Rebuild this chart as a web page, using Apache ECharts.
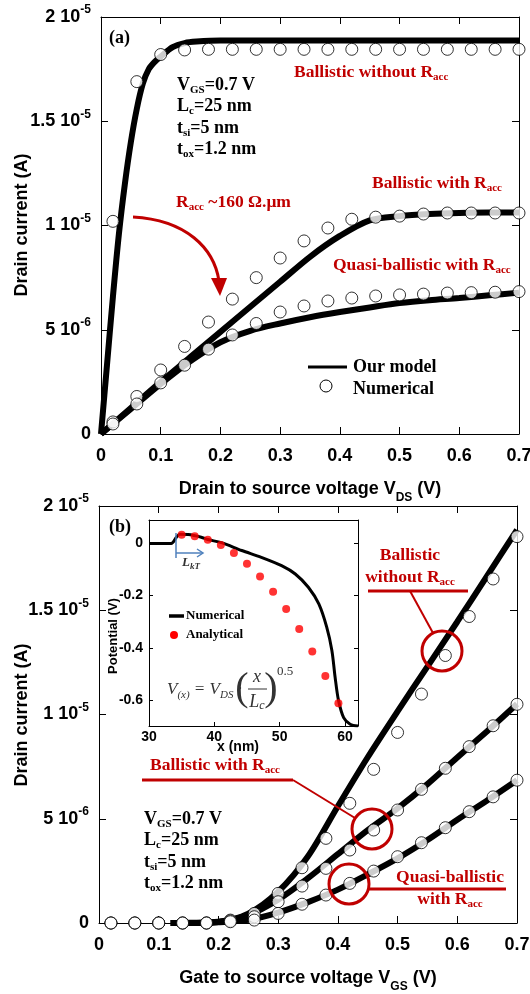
<!DOCTYPE html>
<html lang="en">
<head>
<meta charset="utf-8">
<title>Drain current - ballistic / quasi-ballistic</title>
<script src="https://cdn.jsdelivr.net/npm/echarts@6/dist/echarts.min.js"></script>
<style>
    * { margin: 0; padding: 0; }
    html, body { width: 100%; height: 100%; background: #fff; }
    #main { width: 530px; height: 994px; }
</style>
</head>
<body>
<div id="main"></div>
<script>
// currents are in units of 1e-6 A

// ---- panel (a): Id vs Vds, Vgs = 0.7 V
var vdsSteep = [0, 0.01, 0.02, 0.03, 0.04, 0.05, 0.06, 0.07, 0.08, 0.09, 0.10, 0.12, 0.14, 0.16, 0.2, 0.3, 0.4, 0.5, 0.6, 0.7];
var ballNoRaccModelA = [0, 3.3, 6.6, 9.6, 12.0, 14.0, 15.6, 16.8, 17.5, 17.85, 18.1, 18.55, 18.75, 18.82, 18.87, 18.87, 18.87, 18.87, 18.87, 18.87];
var vdsModel = [0, 0.05, 0.1, 0.15, 0.2, 0.25, 0.3, 0.35, 0.4, 0.45, 0.5, 0.55, 0.6, 0.65, 0.7];
var ballRaccModelA = [0, 1.25, 2.5, 3.7, 4.9, 6.1, 7.3, 8.5, 9.5, 10.25, 10.45, 10.55, 10.6, 10.62, 10.62];
var quasiModelA = [0, 1.2, 2.4, 3.5, 4.4, 4.95, 5.3, 5.6, 5.85, 6.07, 6.28, 6.42, 6.52, 6.65, 6.78];

var vdsNum = [0.02, 0.06, 0.10, 0.14, 0.18, 0.22, 0.26, 0.30, 0.34, 0.38, 0.42, 0.46, 0.50, 0.54, 0.58, 0.62, 0.66, 0.70];
var ballNoRaccNumA = [10.2, 16.9, 18.2, 18.42, 18.45, 18.45, 18.45, 18.45, 18.45, 18.45, 18.45, 18.45, 18.45, 18.45, 18.45, 18.45, 18.45, 18.45];
var ballRaccNumA = [0.58, 1.8, 3.07, 4.2, 5.37, 6.47, 7.5, 8.44, 9.26, 9.88, 10.3, 10.4, 10.45, 10.55, 10.6, 10.6, 10.6, 10.6];
var quasiNumA = [0.48, 1.44, 2.45, 3.3, 4.07, 4.75, 5.3, 5.85, 6.14, 6.38, 6.52, 6.62, 6.67, 6.71, 6.76, 6.78, 6.8, 6.83];

// ---- panel (b): Id vs Vgs
var vgsModel = [0.12, 0.15, 0.2, 0.25, 0.3, 0.35, 0.4, 0.45, 0.5, 0.55, 0.6, 0.65, 0.7];
var ballNoRaccModelB = [0, 0.01, 0.06, 0.45, 1.5, 3.2, 5.6, 7.95, 10.15, 12.3, 14.45, 16.65, 18.85];
var ballRaccModelB = [0, 0, 0.05, 0.38, 1.12, 2.15, 3.3, 4.45, 5.5, 6.66, 7.94, 9.2, 10.5];
var quasiModelB = [0, 0, 0.03, 0.15, 0.5, 1.0, 1.6, 2.33, 3.1, 3.98, 4.95, 5.88, 6.85];

var vgsNum = [0.02, 0.06, 0.10, 0.14, 0.18, 0.22, 0.26, 0.30, 0.34, 0.38, 0.42, 0.46, 0.50, 0.54, 0.58, 0.62, 0.66, 0.70];
var ballNoRaccNumB = [0, 0, 0, 0, 0, 0.14, 0.46, 1.42, 2.65, 4.06, 5.74, 7.37, 9.14, 10.98, 12.83, 14.7, 16.5, 18.53];
var ballRaccNumB = [0, 0, 0, 0, 0, 0.1, 0.3, 1.02, 1.77, 2.62, 3.5, 4.46, 5.42, 6.41, 7.42, 8.46, 9.46, 10.49];
var quasiNumB = [0, 0, 0, 0, 0, 0.06, 0.14, 0.46, 0.90, 1.34, 1.9, 2.49, 3.18, 3.85, 4.57, 5.34, 6.05, 6.85];

// ---- inset: channel potential (V) vs x (nm)
var insetNumX = [30, 33.4, 34.2, 34.7, 36, 38, 39, 41.1, 44.2, 47.2, 50.3, 52.4, 54.4, 56, 57.2, 58, 58.5, 59, 59.8, 60.8, 62];
var insetNumY = [0, 0, 0.024, 0.035, 0.034, 0.024, 0.015, 0.003, -0.027, -0.053, -0.085, -0.117, -0.168, -0.232, -0.32, -0.41, -0.514, -0.6, -0.668, -0.693, -0.7];
var insetAnaX = [35, 37, 39, 41, 43, 45, 47, 49, 51, 53, 55, 57, 59];
var insetAnaY = [0.033, 0.028, 0.014, -0.006, -0.037, -0.078, -0.127, -0.185, -0.251, -0.328, -0.414, -0.508, -0.613];
var insetYTicks = [-0.6, -0.4, -0.2, 0];

// y tick labels: mantissa + exponent
var yTickVal = [0, 5, 10, 15, 20];
var yTickMant = ['0', '5', '1', '1.5', '2'];
var yTickExp = ['', '-6', '-5', '-5', '-5'];

var RED = '#c00000';
var BLUE = '#4f81bd';
var SANS = '"Liberation Sans", Arial, sans-serif';
var SERIF = '"Liberation Serif", "Times New Roman", serif';

function zip(xs, ys) {
    return xs.map(function (x, i) { return [x, ys[i]]; });
}

function yLabel(v) {
    var i = yTickVal.indexOf(Math.round(v));
    if (i < 0) return '';
    if (!yTickExp[i]) return '{n|' + yTickMant[i] + '}';
    return '{n|' + yTickMant[i] + ' 10}{e|' + yTickExp[i] + '}';
}

var tickRich = {
    n: {fontFamily: SANS, fontWeight: 'bold', fontSize: 18, color: '#000'},
    e: {fontFamily: SANS, fontWeight: 'bold', fontSize: 12, color: '#000', padding: [0, 0, 14, 0]}
};
var nameRich = {
    t: {fontFamily: SANS, fontWeight: 'bold', fontSize: 18, color: '#000'},
    s: {fontFamily: SANS, fontWeight: 'bold', fontSize: 12, color: '#000', padding: [18, 0, 0, 0]}
};

function mainX(grid, name) {
    return [{
        gridIndex: grid, type: 'value', position: 'bottom', min: 0, max: 0.7, interval: 0.1,
        axisLine: {onZero: false, lineStyle: {color: '#000', width: 1}},
        axisTick: {inside: true, length: 7, lineStyle: {color: '#000'}},
        axisLabel: {margin: 13, fontFamily: SANS, fontWeight: 'bold', fontSize: 18, color: '#000'},
        splitLine: {show: false},
        name: name, nameLocation: 'middle', nameGap: 40,
        nameTextStyle: {rich: nameRich}
    }, {
        gridIndex: grid, type: 'value', position: 'top', min: 0, max: 0.7, interval: 0.1,
        axisLine: {onZero: false, lineStyle: {color: '#000', width: 1}},
        axisTick: {inside: true, length: 7, lineStyle: {color: '#000'}},
        axisLabel: {show: false}, splitLine: {show: false}
    }];
}

function mainY(grid) {
    return [{
        gridIndex: grid, type: 'value', position: 'left', min: 0, max: 20, interval: 5,
        axisLine: {show: true, onZero: false, lineStyle: {color: '#000', width: 1}},
        axisTick: {show: true, inside: true, length: 7, lineStyle: {color: '#000'}},
        axisLabel: {margin: 10, formatter: yLabel, rich: tickRich},
        splitLine: {show: false}
    }, {
        gridIndex: grid, type: 'value', position: 'right', min: 0, max: 20, interval: 5,
        axisLine: {show: true, onZero: false, lineStyle: {color: '#000', width: 1}},
        axisTick: {show: true, inside: true, length: 7, lineStyle: {color: '#000'}},
        axisLabel: {show: false}, splitLine: {show: false}
    }];
}

function modelLine(xi, yi, data, smooth) {
    return {
        type: 'line', xAxisIndex: xi, yAxisIndex: yi, data: data,
        showSymbol: false, smooth: smooth, z: 3,
        lineStyle: {color: '#000', width: 6}
    };
}
function numPoints(xi, yi, data) {
    return {
        type: 'scatter', xAxisIndex: xi, yAxisIndex: yi, data: data, z: 5,
        symbol: 'circle', symbolSize: 12,
        itemStyle: {color: '#fff', borderColor: '#000', borderWidth: 1}
    };
}

// annotation helpers (text positions in pixels)
var annRich = {
    k: {fontFamily: SERIF, fontWeight: 'bold', fontSize: 18, fill: '#000'},
    ks: {fontFamily: SERIF, fontWeight: 'bold', fontSize: 11, fill: '#000', padding: [10, 0, 0, 0]},
    r: {fontFamily: SERIF, fontWeight: 'bold', fontSize: 17.5, fill: RED},
    rs: {fontFamily: SERIF, fontWeight: 'bold', fontSize: 11, fill: RED, padding: [10, 0, 0, 0]}
};
function txt(x, y, text, align, extra) {
    var st = {text: text, align: align || 'left', verticalAlign: 'middle', rich: annRich,
        font: 'bold 18px ' + SERIF, fill: '#000'};
    if (extra) for (var k in extra) st[k] = extra[k];
    return {type: 'text', x: x, y: y, z: 20, style: st};
}
function params(x, y0, dy) {
    return [
        txt(x, y0, '{k|V}{ks|GS}{k|=0.7 V}'),
        txt(x, y0 + dy, '{k|L}{ks|c}{k|=25 nm}'),
        txt(x, y0 + 2 * dy, '{k|t}{ks|si}{k|=5 nm}'),
        txt(x, y0 + 3 * dy, '{k|t}{ks|ox}{k|=1.2 nm}')
    ];
}
function seg(x1, y1, x2, y2, color, w) {
    return {type: 'line', z: 20, shape: {x1: x1, y1: y1, x2: x2, y2: y2},
        style: {stroke: color, lineWidth: w}};
}
function ring(cx, cy, r) {
    return {type: 'circle', z: 20, shape: {cx: cx, cy: cy, r: r},
        style: {fill: null, stroke: RED, lineWidth: 3}};
}
function vTitle(x, y, text, size) {
    return {type: 'text', x: x, y: y, z: 20, rotation: Math.PI / 2, style: {text: text,
        align: 'center', verticalAlign: 'middle', font: 'bold ' + size + 'px ' + SANS, fill: '#000'}};
}

var graphics = [].concat(
    // panel (a)
    [txt(109, 38, '(a)'), vTitle(22, 225, 'Drain current (A)', 18)],
    params(177, 85, 21.5),
    [
        txt(294, 72, '{r|Ballistic without R}{rs|acc}'),
        txt(372, 183, '{r|Ballistic with R}{rs|acc}'),
        txt(333, 265, '{r|Quasi-ballistic with R}{rs|acc}'),
        txt(176, 202, '{r|R}{rs|acc}{r| ~160 \u03a9.\u03bcm}'),
        {type: 'bezierCurve', z: 20,
            shape: {x1: 133, y1: 217, cpx1: 186, cpy1: 220, cpx2: 214, cpy2: 248, x2: 219, y2: 281},
            style: {stroke: RED, lineWidth: 3, fill: null}},
        {type: 'polygon', z: 20, shape: {points: [[211, 278], [227, 278], [220, 296]]},
            style: {fill: RED}},
        // legend
        seg(308, 367, 347, 367, '#000', 3),
        txt(353, 367, 'Our model'),
        {type: 'circle', z: 20, shape: {cx: 326, cy: 386, r: 6}, style: {fill: '#fff', stroke: '#000', lineWidth: 1}},
        txt(353, 389, 'Numerical')
    ],
    // panel (b)
    [txt(109, 527, '(b)'), vTitle(22, 715, 'Drain current (A)', 18)],
    params(144, 819, 21.5),
    [
        txt(410, 555, '{r|Ballistic}', 'center'),
        txt(410, 577, '{r|without R}{rs|acc}', 'center'),
        seg(368, 591, 468, 591, RED, 3),
        seg(410, 591, 433, 633, RED, 2),
        ring(442, 651, 20),
        txt(150, 765, '{r|Ballistic with R}{rs|acc}'),
        seg(142, 780, 293, 780, RED, 3),
        seg(293, 780, 355, 818, RED, 2),
        ring(372, 829, 20),
        txt(450, 877, '{r|Quasi-ballistic}', 'center'),
        txt(450, 899, '{r|with R}{rs|acc}', 'center'),
        seg(369, 889, 506, 889, RED, 3),
        ring(349, 884, 20)
    ],
    // inset decorations
    [
        seg(176, 533, 176, 558, BLUE, 1.5),
        seg(176, 553, 203, 553, BLUE, 1.5),
        {type: 'polyline', z: 20, shape: {points: [[197, 549], [203, 553], [197, 557]]},
            style: {stroke: BLUE, lineWidth: 1.5, fill: null}},
        {type: 'text', x: 182, y: 563, z: 20, style: {
            text: '{l|L}{ls|kT}', verticalAlign: 'middle',
            rich: {l: {fontFamily: SERIF, fontStyle: 'italic', fontWeight: 'bold', fontSize: 13, fill: '#333'},
                ls: {fontFamily: SERIF, fontStyle: 'italic', fontWeight: 'bold', fontSize: 9, fill: '#333', padding: [7, 0, 0, 0]}}}},
        seg(169, 616, 184, 616, '#000', 3.5),
        {type: 'text', x: 186, y: 616, z: 20, style: {text: 'Numerical', verticalAlign: 'middle',
            font: 'bold 13px ' + SERIF, fill: '#000'}},
        {type: 'circle', z: 20, shape: {cx: 174, cy: 635, r: 4}, style: {fill: '#ff0000'}},
        {type: 'text', x: 186, y: 635, z: 20, style: {text: 'Analytical', verticalAlign: 'middle',
            font: 'bold 13px ' + SERIF, fill: '#000'}},
        // formula V(x) = VDS . (x / Lc)^0.5
        {type: 'text', x: 167, y: 690, z: 20, style: {
            text: '{v|V}{vs|(x)}{v| = V}{vs|DS}{v| \u00b7}', verticalAlign: 'middle',
            rich: {v: {fontFamily: SERIF, fontStyle: 'italic', fontSize: 17, fill: '#333'},
                vs: {fontFamily: SERIF, fontStyle: 'italic', fontSize: 11, fill: '#333', padding: [10, 0, 0, 0]}}}},
        {type: 'text', x: 242, y: 689, z: 20, style: {text: '(', align: 'center', verticalAlign: 'middle',
            font: '40px ' + SERIF, fill: '#333'}},
        {type: 'text', x: 257, y: 677, z: 20, style: {text: 'x', align: 'center', verticalAlign: 'middle',
            font: 'italic 18px ' + SERIF, fill: '#333'}},
        seg(248, 689, 267, 689, '#333', 1),
        {type: 'text', x: 257, y: 702, z: 20, style: {
            text: '{v|L}{vs|c}', align: 'center', verticalAlign: 'middle',
            rich: {v: {fontFamily: SERIF, fontStyle: 'italic', fontSize: 18, fill: '#333'},
                vs: {fontFamily: SERIF, fontStyle: 'italic', fontSize: 12, fill: '#333', padding: [8, 0, 0, 0]}}}},
        {type: 'text', x: 271, y: 689, z: 20, style: {text: ')', align: 'center', verticalAlign: 'middle',
            font: '40px ' + SERIF, fill: '#333'}},
        {type: 'text', x: 277, y: 672, z: 20, style: {text: '0.5', verticalAlign: 'middle',
            font: '13px ' + SERIF, fill: '#333'}},
        {type: 'text', x: 238, y: 747, z: 20, style: {text: 'x (nm)', align: 'center', verticalAlign: 'middle',
            font: 'bold 14px ' + SANS, fill: '#000'}},
        vTitle(113, 636, 'Potential (V)', 13)
    ]
);

var xAxes = [].concat(
    mainX(0, '{t|Drain to source voltage V}{s|DS}{t| (V)}'),
    mainX(1, '{t|Gate to source voltage V}{s|GS}{t| (V)}'),
    [{
        gridIndex: 2, type: 'value', position: 'bottom', min: 30, max: 62, interval: 10,
        axisLine: {onZero: false, lineStyle: {color: '#000'}},
        axisTick: {inside: true, length: 4, lineStyle: {color: '#000'}},
        axisLabel: {margin: 4, fontFamily: SANS, fontWeight: 'bold', fontSize: 14, color: '#000', showMaxLabel: false},
        splitLine: {show: false}
    }, {
        gridIndex: 2, type: 'value', position: 'top', min: 30, max: 62,
        axisLine: {onZero: false, lineStyle: {color: '#000'}},
        axisTick: {show: false}, axisLabel: {show: false}, splitLine: {show: false}
    }]
);
var yAxes = [].concat(
    mainY(0),
    mainY(1),
    [{
        gridIndex: 2, type: 'value', position: 'left', min: -0.7, max: 0.09,
        axisLine: {show: true, onZero: false, lineStyle: {color: '#000'}},
        axisTick: {show: true, inside: true, length: 4, customValues: insetYTicks, lineStyle: {color: '#000'}},
        axisLabel: {margin: 6, customValues: insetYTicks, fontFamily: SANS, fontWeight: 'bold', fontSize: 14, color: '#000'},
        splitLine: {show: false}
    }, {
        gridIndex: 2, type: 'value', position: 'right', min: -0.7, max: 0.09,
        axisLine: {show: true, onZero: false, lineStyle: {color: '#000'}},
        axisTick: {show: true, inside: true, length: 4, customValues: insetYTicks, lineStyle: {color: '#000'}},
        axisLabel: {show: false}, splitLine: {show: false}
    }]
);

var option = {
    animation: false,
    backgroundColor: '#fff',
    grid: [
        {left: 101, top: 17, width: 418, height: 417, outerBoundsMode: 'none', containLabel: false},
        {left: 99, top: 506, width: 418, height: 417, outerBoundsMode: 'none', containLabel: false},
        {left: 149, top: 520, width: 209, height: 206, outerBoundsMode: 'none', containLabel: false,
            show: true, backgroundColor: '#fff', borderWidth: 0}
    ],
    xAxis: xAxes,
    yAxis: yAxes,
    series: [
        modelLine(0, 0, zip(vdsSteep, ballNoRaccModelA), 0.3),
        modelLine(0, 0, zip(vdsModel, ballRaccModelA), 0.3),
        modelLine(0, 0, zip(vdsModel, quasiModelA), 0.3),
        numPoints(0, 0, zip(vdsNum, ballNoRaccNumA)),
        numPoints(0, 0, zip(vdsNum, ballRaccNumA)),
        numPoints(0, 0, zip(vdsNum, quasiNumA)),

        modelLine(2, 2, zip(vgsModel, ballNoRaccModelB), 0.3),
        modelLine(2, 2, zip(vgsModel, ballRaccModelB), 0.3),
        modelLine(2, 2, zip(vgsModel, quasiModelB), 0.3),
        numPoints(2, 2, zip(vgsNum, ballNoRaccNumB)),
        numPoints(2, 2, zip(vgsNum, ballRaccNumB)),
        numPoints(2, 2, zip(vgsNum, quasiNumB)),

        {type: 'line', xAxisIndex: 4, yAxisIndex: 4, data: zip(insetNumX, insetNumY), z: 6,
            showSymbol: false, smooth: 0.3, lineStyle: {color: '#000', width: 3}},
        {type: 'scatter', xAxisIndex: 4, yAxisIndex: 4, data: zip(insetAnaX, insetAnaY), z: 7,
            symbol: 'circle', symbolSize: 8, itemStyle: {color: '#ff0000'}}
    ],
    graphic: graphics
};

var chart = echarts.init(document.getElementById('main'));
chart.setOption(option);
</script>
</body>
</html>
